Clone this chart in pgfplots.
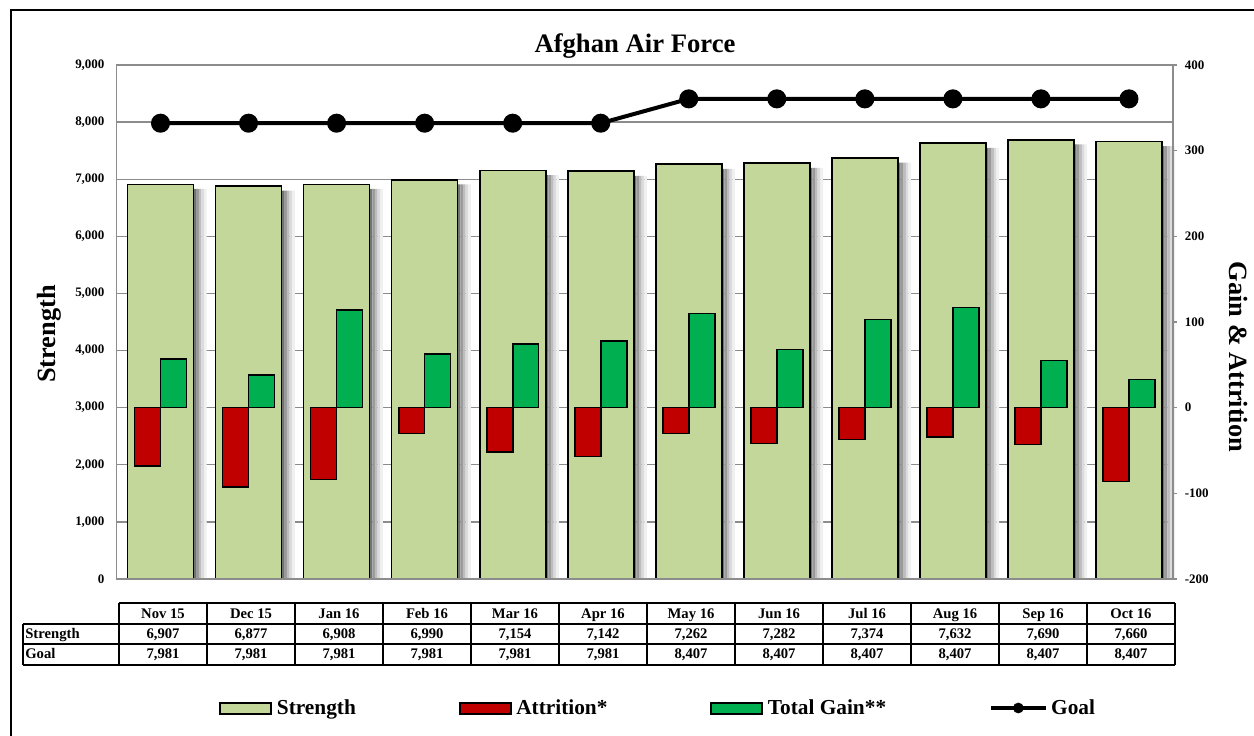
\documentclass[border=0pt]{standalone}
\usepackage{pgfplots}
\pgfplotsset{compat=1.18}
\usepackage{fontspec}
\setmainfont{Liberation Serif}
\definecolor{strength}{HTML}{C4D79B}
\definecolor{attr}{HTML}{C00000}
\definecolor{gain}{HTML}{00B050}
\definecolor{gridc}{HTML}{8C8C8C}
\pgfplotstableread{
x strength shadow goal attr gain
0 6907 6830 7981 -68 57
1 6877 6800 7981 -93 38
2 6908 6830 7981 -84 114
3 6990 6910 7981 -30 63
4 7154 7070 7981 -52 74
5 7142 7060 7981 -57 78
6 7262 7180 8407 -30 110
7 7282 7200 8407 -42 68
8 7374 7290 8407 -37 103
9 7632 7550 8407 -34 117
10 7690 7610 8407 -43 55
11 7660 7580 8407 -86 33
}\data
\begin{document}
\begin{tikzpicture}[x=0.6pt,y=-0.6pt]
\useasboundingbox (0,0) rectangle (1254,736);
% outer frame
\draw[line width=1.3pt] (11,10) rectangle (1280,760);
% left axis: strength and goal
\begin{axis}[at={(69.9pt,-347.4pt)}, anchor=south west, scale only axis,
  width=633.9pt, height=308.4pt,
  xmin=-0.5, xmax=11.5, ymin=0, ymax=9000,
  ytick={0,1000,...,9000}, xtick=\empty, ytick pos=left,
  ymajorgrids, grid style={gridc, line width=0.8pt},
  axis line style={gridc, line width=0.8pt},
  major tick length=0pt,
  yticklabel style={font=\bfseries\fontsize{7.8}{9}\selectfont, inner sep=0pt, xshift=-7pt},
  /pgf/number format/assume math mode=true,
  /pgf/number format/1000 sep={,},
  clip=false]
\addplot[ybar, bar width=0.03, bar shift=0.39, draw=none, fill=black!55, forget plot] table[x=x,y=shadow]{\data};
\addplot[ybar, bar width=0.03, bar shift=0.42, draw=none, fill=black!40, forget plot] table[x=x,y=shadow]{\data};
\addplot[ybar, bar width=0.03, bar shift=0.45, draw=none, fill=black!26, forget plot] table[x=x,y=shadow]{\data};
\addplot[ybar, bar width=0.03, bar shift=0.48, draw=none, fill=black!14, forget plot] table[x=x,y=shadow]{\data};
\addplot[ybar, bar width=0.03, bar shift=0.51, draw=none, fill=black!6, forget plot] table[x=x,y=shadow]{\data};
\addplot[ybar, bar width=0.75, bar shift=0, fill=strength, draw=black, line width=1pt, forget plot]
  table[x=x,y=strength]{\data};
\addplot[black, line width=2.4pt, mark=*, mark size=4.5pt, mark options={fill=black}, forget plot]
  table[x=x,y=goal]{\data};
\end{axis}
% right axis: attrition and gain
\begin{axis}[at={(69.9pt,-347.4pt)}, anchor=south west, scale only axis,
  width=633.9pt, height=308.4pt,
  xmin=-0.5, xmax=11.5, ymin=-200, ymax=400,
  ytick={-200,-100,...,400}, xtick=\empty,
  ytick pos=right, yticklabel pos=right,
  tick align=outside, major tick length=2.4pt,
  tick style={gridc, line width=0.8pt},
  axis line style={gridc, line width=0.8pt},
  yticklabel style={font=\bfseries\fontsize{7.8}{9}\selectfont, inner sep=0pt, anchor=west, xshift=4.5pt},
  /pgf/number format/assume math mode=true,
  legend style={at={(0.5133,-0.251)}, anchor=center, draw=none, fill=none,
    legend columns=4, font=\bfseries\fontsize{12.8}{15}\selectfont,
    /tikz/every even column/.append style={column sep=59.6pt}},
  clip=false]
\addlegendimage{legend image code/.code={\draw[fill=strength, draw=black, line width=1.2pt] (0pt,-3.3pt) rectangle (30.6pt,3.3pt);}}
\addlegendentry{\hspace{0.8pt}Strength}
\addlegendimage{legend image code/.code={\draw[fill=attr, draw=black, line width=1.2pt] (0pt,-3.3pt) rectangle (30.6pt,3.3pt);}}
\addlegendentry{\hspace{0.8pt}Attrition*}
\addlegendimage{legend image code/.code={\draw[fill=gain, draw=black, line width=1.2pt] (0pt,-3.3pt) rectangle (30.6pt,3.3pt);}}
\addlegendentry{\hspace{0.8pt}Total Gain**}
\addlegendimage{legend image code/.code={\draw[black, line width=2.4pt] (0pt,0pt) -- (33pt,0pt); \fill[black] (16.5pt,0pt) circle (3pt);}}
\addlegendentry{Goal}
\addplot[ybar, bar width=0.295, bar shift=-0.1475, fill=attr, draw=black, line width=1pt, forget plot]
  table[x=x,y=attr]{\data};
\addplot[ybar, bar width=0.295, bar shift=0.1475, fill=gain, draw=black, line width=1pt, forget plot]
  table[x=x,y=gain]{\data};
\end{axis}
% title and axis labels
\node[font=\bfseries\fontsize{16}{19}\selectfont] at (635,46) {Afghan Air Force};
\node[rotate=90, font=\bfseries\fontsize{15.8}{19}\selectfont] at (49,334) {Strength};
\node[rotate=-90, font=\bfseries\fontsize{15.8}{19}\selectfont] at (1238,357) {Gain \& Attrition};
% data table
\draw[line width=0.7pt] (119,603) -- (1175,603);
\foreach \yy in {624,644,665} \draw[line width=0.7pt] (23,\yy) -- (1175,\yy);
\draw[line width=0.7pt] (23,624) -- (23,665);
\foreach \k in {0,...,12} \draw[line width=0.7pt] ({119+88*\k},603) -- ({119+88*\k},665);
\node[anchor=base west, inner sep=0pt, font=\bfseries\fontsize{8.8}{10}\selectfont] at (25,638.5) {Strength};
\node[anchor=base west, inner sep=0pt, font=\bfseries\fontsize{8.8}{10}\selectfont] at (25,659) {Goal};
\foreach \m/\s/\g [count=\i from 0] in {{Nov 15}/{6,907}/{7,981},{Dec 15}/{6,877}/{7,981},{Jan 16}/{6,908}/{7,981},{Feb 16}/{6,990}/{7,981},{Mar 16}/{7,154}/{7,981},{Apr 16}/{7,142}/{7,981},{May 16}/{7,262}/{8,407},{Jun 16}/{7,282}/{8,407},{Jul 16}/{7,374}/{8,407},{Aug 16}/{7,632}/{8,407},{Sep 16}/{7,690}/{8,407},{Oct 16}/{7,660}/{8,407}}{
  \node[anchor=base, inner sep=0pt, font=\bfseries\fontsize{8.8}{10}\selectfont] at ({163+88*\i},618.5) {\m};
  \node[anchor=base, inner sep=0pt, font=\bfseries\fontsize{8.8}{10}\selectfont] at ({163+88*\i},638.5) {\s};
  \node[anchor=base, inner sep=0pt, font=\bfseries\fontsize{8.8}{10}\selectfont] at ({163+88*\i},659) {\g};
}
\end{tikzpicture}
\end{document}
